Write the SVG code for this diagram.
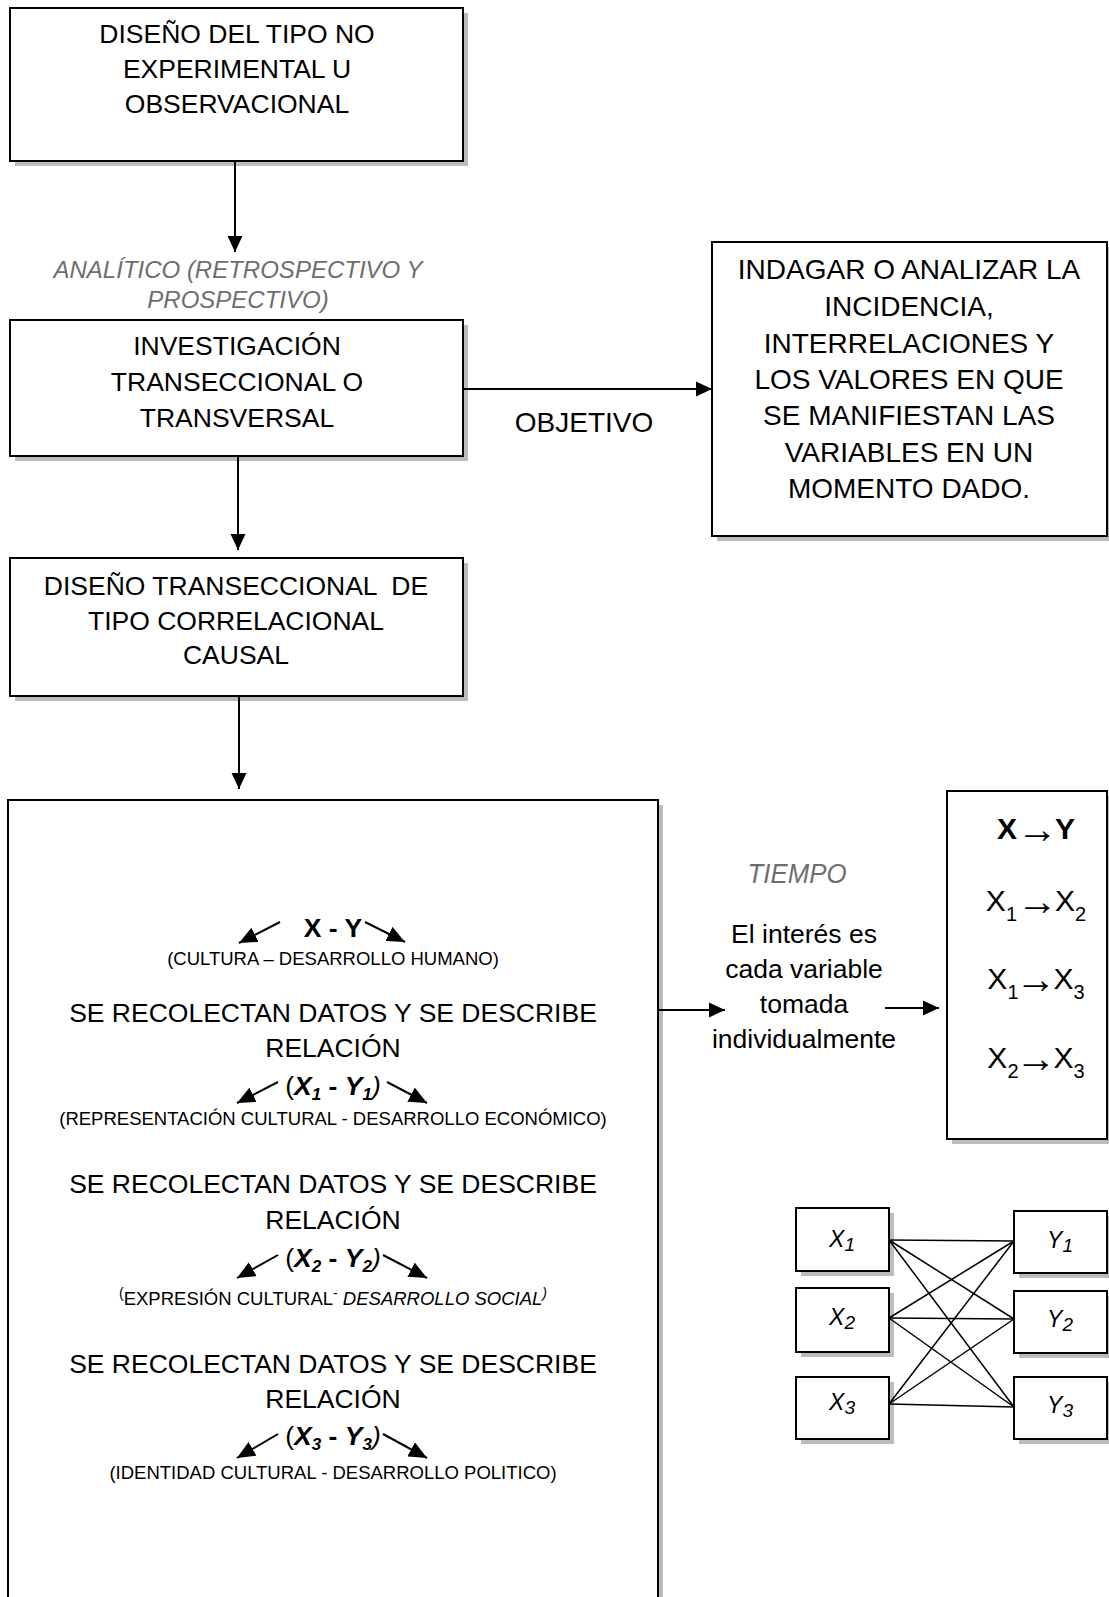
<svg xmlns="http://www.w3.org/2000/svg" width="1109" height="1597" viewBox="0 0 1109 1597">
<defs>
<style>
text{font-family:"Liberation Sans",Arial,sans-serif;fill:#000}
.c{text-anchor:middle}
.f26{font-size:26.5px}
.f28{font-size:28px}
.f18{font-size:18.5px}
.f30{font-size:30px}
.f22{font-size:23px;font-style:italic}
.gray{fill:#6e6e6e;font-style:italic}
.box{fill:#fff;stroke:#000;stroke-width:2}
.sh{fill:#bcbcbc}
.ln{stroke:#000;stroke-width:2;fill:none}
.thin{stroke:#000;stroke-width:1.5;fill:none}
.b{font-weight:bold}
.bi{font-weight:bold;font-style:italic}
.i{font-style:italic}
.arr{font-weight:normal;font-size:41px}
.sub{font-size:20px}
</style>
<marker id="ah" markerUnits="userSpaceOnUse" markerWidth="16" markerHeight="16" viewBox="0 0 15 14" refX="15" refY="7" orient="auto">
<path d="M0,0 L15,7 L0,14 z" fill="#000"/>
</marker>
<marker id="ah2" markerUnits="userSpaceOnUse" markerWidth="18" markerHeight="16" viewBox="0 0 17 15" refX="17" refY="7.5" orient="auto">
<path d="M0,0 L17,7.5 L0,15 z" fill="#000"/>
</marker>
</defs>
<rect width="1109" height="1597" fill="#fff"/>

<g id="n-diseno-tipo">
<rect class="sh" x="15" y="13" width="453" height="153"/>
<rect class="box" x="10" y="8" width="453" height="153"/>
<text class="c f26" x="237" y="43">DISEÑO DEL TIPO NO</text>
<text class="c f26" x="237" y="78">EXPERIMENTAL U</text>
<text class="c f26" x="237" y="113">OBSERVACIONAL</text>
</g>

<g id="lbl-analitico">
<text class="c gray" font-size="24" x="238" y="278">ANALÍTICO (RETROSPECTIVO Y</text>
<text class="c gray" font-size="24" x="238" y="308">PROSPECTIVO)</text>
</g>

<g id="n-investigacion">
<rect class="sh" x="15" y="325" width="453" height="136"/>
<rect class="box" x="10" y="320" width="453" height="136"/>
<text class="c f26" x="237" y="355">INVESTIGACIÓN</text>
<text class="c f26" x="237" y="391">TRANSECCIONAL O</text>
<text class="c f26" x="237" y="427">TRANSVERSAL</text>
</g>

<g id="lbl-objetivo">
<text class="c f28" x="584" y="432">OBJETIVO</text>
</g>

<g id="n-indagar">
<rect class="sh" x="717" y="247" width="395" height="294"/>
<rect class="box" x="712" y="242" width="395" height="294"/>
<text class="c f28" x="909" y="279">INDAGAR O ANALIZAR LA</text>
<text class="c f28" x="909" y="316">INCIDENCIA,</text>
<text class="c f28" x="909" y="353">INTERRELACIONES Y</text>
<text class="c f28" x="909" y="389">LOS VALORES EN QUE</text>
<text class="c f28" x="909" y="425">SE MANIFIESTAN LAS</text>
<text class="c f28" x="909" y="462">VARIABLES EN UN</text>
<text class="c f28" x="909" y="498">MOMENTO DADO.</text>
</g>

<g id="n-diseno-transeccional">
<rect class="sh" x="15" y="563" width="453" height="138"/>
<rect class="box" x="10" y="558" width="453" height="138"/>
<text class="c f26" x="236" y="595" style="white-space:pre">DISEÑO TRANSECCIONAL  DE</text>
<text class="c f26" x="236" y="630">TIPO CORRELACIONAL</text>
<text class="c f26" x="236" y="664">CAUSAL</text>
</g>

<g id="n-relaciones">
<rect class="sh" x="13" y="805" width="650" height="820"/>
<rect class="box" x="8" y="800" width="650" height="820"/>
<text class="c b" font-size="26.5" x="333" y="937">X - Y</text>
<text class="c f18" x="333" y="965">(CULTURA – DESARROLLO HUMANO)</text>

<text class="c f26" x="333" y="1022">SE RECOLECTAN DATOS Y SE DESCRIBE</text>
<text class="c f26" x="333" y="1057">RELACIÓN</text>
<text class="c f26" x="333" y="1095">(<tspan class="bi">X</tspan><tspan class="bi" font-size="17" dy="5">1</tspan><tspan class="b" dy="-5"> - </tspan><tspan class="bi">Y</tspan><tspan class="bi" font-size="17" dy="5">1</tspan><tspan class="i" dy="-5">)</tspan></text>
<text class="c f18" x="333" y="1125">(REPRESENTACIÓN CULTURAL - DESARROLLO ECONÓMICO)</text>

<text class="c f26" x="333" y="1193">SE RECOLECTAN DATOS Y SE DESCRIBE</text>
<text class="c f26" x="333" y="1229">RELACIÓN</text>
<text class="c f26" x="333" y="1267">(<tspan class="bi">X</tspan><tspan class="bi" font-size="17" dy="5">2</tspan><tspan class="b" dy="-5"> - </tspan><tspan class="bi">Y</tspan><tspan class="bi" font-size="17" dy="5">2</tspan><tspan class="i" dy="-5">)</tspan></text>
<text class="c f18" x="333" y="1305"><tspan font-size="14" dy="-7">(</tspan><tspan dy="7">EXPRESIÓN CULTURAL</tspan><tspan font-size="14" dy="-7">-</tspan><tspan class="i" dy="7"> DESARROLLO SOCIAL</tspan><tspan class="i" font-size="14" dy="-7">)</tspan></text>

<text class="c f26" x="333" y="1373">SE RECOLECTAN DATOS Y SE DESCRIBE</text>
<text class="c f26" x="333" y="1408">RELACIÓN</text>
<text class="c f26" x="333" y="1445">(<tspan class="bi">X</tspan><tspan class="bi" font-size="17" dy="5">3</tspan><tspan class="b" dy="-5"> - </tspan><tspan class="bi">Y</tspan><tspan class="bi" font-size="17" dy="5">3</tspan><tspan class="i" dy="-5">)</tspan></text>
<text class="c f18" x="333" y="1479">(IDENTIDAD CULTURAL - DESARROLLO POLITICO)</text>
</g>

<g id="lbl-tiempo">
<text class="c gray" font-size="28" x="797" y="883" textLength="99" lengthAdjust="spacingAndGlyphs">TIEMPO</text>
<text class="c f26" x="804" y="943">El interés es</text>
<text class="c f26" x="804" y="978">cada variable</text>
<text class="c f26" x="804" y="1013">tomada</text>
<text class="c f26" x="804" y="1048">individualmente</text>
</g>

<g id="n-causal">
<rect class="sh" x="952" y="796" width="160" height="348"/>
<rect class="box" x="947" y="791" width="160" height="348"/>
<text class="c f30" x="1036" y="839"><tspan class="b">X</tspan><tspan class="arr" dy="4">→</tspan><tspan class="b" dy="-4" dx="-3">Y</tspan></text>
<text class="c f30" x="1036" y="911">X<tspan class="sub" dy="10">1</tspan><tspan class="arr" dy="-6">→</tspan><tspan dy="-4" dx="-3">X</tspan><tspan class="sub" dy="10">2</tspan></text>
<text class="c f30" x="1036" y="989">X<tspan class="sub" dy="10">1</tspan><tspan class="arr" dy="-6" dx="-3">→</tspan><tspan dy="-4" dx="-3">X</tspan><tspan class="sub" dy="10">3</tspan></text>
<text class="c f30" x="1036" y="1068">X<tspan class="sub" dy="10">2</tspan><tspan class="arr" dy="-6" dx="-3">→</tspan><tspan dy="-4" dx="-3">X</tspan><tspan class="sub" dy="10">3</tspan></text>
</g>

<g id="n-x1">
<rect class="sh" x="801" y="1213" width="93" height="63"/>
<rect class="box" x="796" y="1208" width="93" height="63"/>
<text class="c f22" x="842" y="1247">X<tspan font-size="19" dy="4">1</tspan></text>
</g>
<g id="n-x2">
<rect class="sh" x="801" y="1293" width="93" height="64"/>
<rect class="box" x="796" y="1288" width="93" height="64"/>
<text class="c f22" x="842" y="1325">X<tspan font-size="19" dy="4">2</tspan></text>
</g>
<g id="n-x3">
<rect class="sh" x="801" y="1382" width="93" height="62"/>
<rect class="box" x="796" y="1377" width="93" height="62"/>
<text class="c f22" x="842" y="1410">X<tspan font-size="19" dy="4">3</tspan></text>
</g>
<g id="n-y1">
<rect class="sh" x="1019" y="1216" width="93" height="62"/>
<rect class="box" x="1014" y="1211" width="93" height="62"/>
<text class="c f22" x="1060" y="1248">Y<tspan font-size="19" dy="4">1</tspan></text>
</g>
<g id="n-y2">
<rect class="sh" x="1019" y="1296" width="93" height="62"/>
<rect class="box" x="1014" y="1291" width="93" height="62"/>
<text class="c f22" x="1060" y="1327">Y<tspan font-size="19" dy="4">2</tspan></text>
</g>
<g id="n-y3">
<rect class="sh" x="1019" y="1382" width="93" height="62"/>
<rect class="box" x="1014" y="1377" width="93" height="62"/>
<text class="c f22" x="1060" y="1413">Y<tspan font-size="19" dy="4">3</tspan></text>
</g>

<g id="connectors">
<line class="ln" x1="235" y1="162" x2="235" y2="252" marker-end="url(#ah)"/>
<line class="ln" x1="238" y1="457" x2="238" y2="550" marker-end="url(#ah)"/>
<line class="ln" x1="463" y1="389" x2="712" y2="389" marker-end="url(#ah)"/>
<line class="ln" x1="239" y1="697" x2="239" y2="789" marker-end="url(#ah)"/>
<line class="ln" x1="659" y1="1010" x2="725" y2="1010" marker-end="url(#ah)"/>
<line class="ln" x1="885" y1="1008" x2="939" y2="1008" marker-end="url(#ah)"/>

<line class="ln" x1="280" y1="922" x2="239" y2="943" marker-end="url(#ah2)"/>
<line class="ln" x1="365" y1="922" x2="405" y2="942" marker-end="url(#ah2)"/>
<line class="ln" x1="278" y1="1082" x2="237" y2="1103" marker-end="url(#ah2)"/>
<line class="ln" x1="387" y1="1082" x2="427" y2="1103" marker-end="url(#ah2)"/>
<line class="ln" x1="278" y1="1255" x2="237" y2="1278" marker-end="url(#ah2)"/>
<line class="ln" x1="383" y1="1255" x2="427" y2="1278" marker-end="url(#ah2)"/>
<line class="ln" x1="278" y1="1434" x2="237" y2="1458" marker-end="url(#ah2)"/>
<line class="ln" x1="383" y1="1434" x2="427" y2="1458" marker-end="url(#ah2)"/>

<line class="thin" x1="889" y1="1240" x2="1014" y2="1241"/>
<line class="thin" x1="889" y1="1240" x2="1014" y2="1319"/>
<line class="thin" x1="889" y1="1240" x2="1014" y2="1407"/>
<line class="thin" x1="889" y1="1318" x2="1014" y2="1241"/>
<line class="thin" x1="889" y1="1318" x2="1014" y2="1319"/>
<line class="thin" x1="889" y1="1318" x2="1014" y2="1407"/>
<line class="thin" x1="889" y1="1404" x2="1014" y2="1241"/>
<line class="thin" x1="889" y1="1404" x2="1014" y2="1319"/>
<line class="thin" x1="889" y1="1404" x2="1014" y2="1407"/>
</g>
</svg>
